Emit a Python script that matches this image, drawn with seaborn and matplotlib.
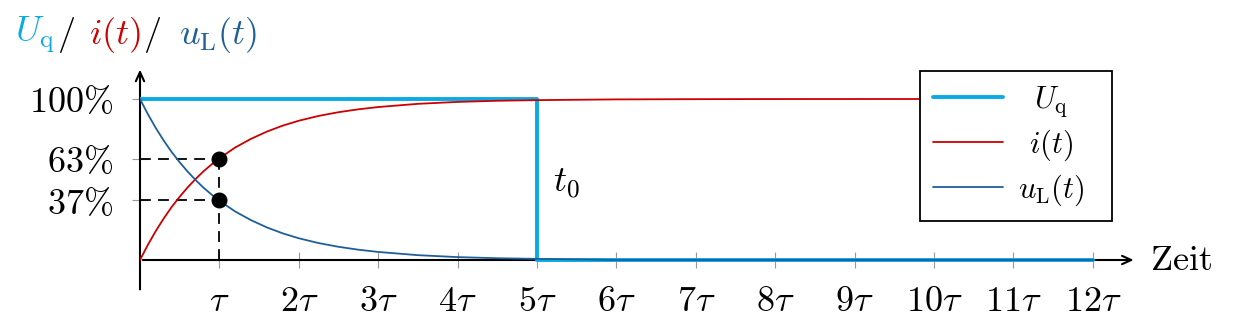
import matplotlib
matplotlib.use("Agg")
import matplotlib.pyplot as plt
import seaborn as sns
import pandas as pd

sns.set_theme(style="white")
plt.rcParams["mathtext.fontset"] = "cm"
plt.rcParams["font.family"] = ["DejaVu Serif"]
plt.rcParams["text.color"] = "black"
plt.rcParams["axes.labelcolor"] = "black"

# ---- data (in % of final value) ----
t_curve = [0, 0.1, 0.2, 0.3, 0.4, 0.5, 0.6, 0.7, 0.8, 0.9, 1.0, 1.2, 1.4, 1.6, 1.8,
           2.0, 2.25, 2.5, 2.75, 3.0, 3.5, 4.0, 4.5, 5.0, 6, 7, 8, 9, 10, 11, 12]
i_vals = [0, 9.5, 18.1, 25.9, 33.0, 39.3, 45.1, 50.3, 55.1, 59.3, 63.2, 69.9, 75.3, 79.8, 83.5,
          86.5, 89.5, 91.8, 93.6, 95.0, 97.0, 98.2, 98.9, 99.3, 99.75, 99.9, 99.97, 99.99, 100, 100, 100]
uL_vals = [100, 90.5, 81.9, 74.1, 67.0, 60.7, 54.9, 49.7, 44.9, 40.7, 36.8, 30.1, 24.7, 20.2, 16.5,
           13.5, 10.5, 8.2, 6.4, 5.0, 3.0, 1.8, 1.1, 0.7, 0, 0, 0, 0, 0, 0, 0]
t_step = [0, 5, 5, 12]
uq_vals = [100, 100, 0, 0]
mark_t = [1, 1]
mark_vals = [63, 37]
x_ticks = list(range(1, 13))
x_labels = [r"$\tau$"] + [rf"${k}\tau$" for k in range(2, 13)]
y_ticks = [37, 63, 100]
y_labels = [r"$37\%$", r"$63\%$", r"$100\%$"]

C_UQ = "#0aaae6"
C_I = "#cc0000"
C_UL = "#1f5f98"
FS = 26

fig = plt.figure(figsize=(12.43, 3.22), dpi=100)
ax = fig.add_axes([140 / 1243, 29.8 / 322, 996.5 / 1243, 225.4 / 322])
ax.set_xlim(0, 12.55)
ax.set_ylim(-20, 120)

df_uq = pd.DataFrame({"t": t_step, "v": uq_vals})
df_i = pd.DataFrame({"t": t_curve, "v": i_vals})
df_ul = pd.DataFrame({"t": t_curve, "v": uL_vals})

sns.lineplot(data=df_uq, x="t", y="v", ax=ax, color=C_UQ, lw=2.8, sort=False,
             estimator=None, label=r"$U_\mathrm{q}$", zorder=3)
sns.lineplot(data=df_i, x="t", y="v", ax=ax, color=C_I, lw=1.3, sort=False,
             estimator=None, label=r"$i(t)$", zorder=4)
sns.lineplot(data=df_ul, x="t", y="v", ax=ax, color=C_UL, lw=1.3, sort=False,
             estimator=None, label=r"$u_\mathrm{L}(t)$", zorder=5)

# dashed helper lines
for v in mark_vals:
    ax.plot([0, mark_t[0]], [v, v], color="black", lw=1.3, ls=(0, (6, 4)), zorder=2)
ax.plot([mark_t[0], mark_t[0]], [0, max(mark_vals)], color="black", lw=1.3,
        ls=(0, (6, 4)), zorder=2)
ax.scatter(mark_t, mark_vals, s=110, color="black", zorder=6)

ax.text(5.2, 47, r"$t_0$", fontsize=FS, va="center", ha="left", color="black")
ax.text(12.72, 0, r"$\mathrm{Zeit}$", fontsize=FS, va="center", ha="left", color="black")

# axes as arrows
for s in ax.spines.values():
    s.set_visible(False)
arrow = dict(arrowstyle="->,head_length=0.55,head_width=0.25", lw=1.5, color="black")
ax.annotate("", xy=(12.55, 0), xytext=(0, 0), arrowprops=arrow,
            annotation_clip=False, zorder=1)
ax.annotate("", xy=(0, 120), xytext=(0, -20), arrowprops=arrow,
            annotation_clip=False, zorder=1)

ax.spines["bottom"].set_position(("data", 0))
ax.set_xticks(x_ticks)
ax.set_xticklabels(x_labels, fontsize=FS)
ax.set_yticks(y_ticks)
ax.set_yticklabels(y_labels, fontsize=FS)
ax.tick_params(axis="both", direction="inout", length=11, width=0.8, color="#999999",
               labelcolor="black")
ax.tick_params(axis="x", pad=12, bottom=True)
ax.tick_params(axis="y", pad=14, left=True)
ax.set_xlabel("")
ax.set_ylabel("")

leg = ax.legend(loc="upper left", bbox_to_anchor=(920 / 1243, 1 - 71 / 322),
                bbox_transform=fig.transFigure,
                fontsize=22, frameon=True, fancybox=False, handlelength=2.3,
                borderpad=0.42, labelspacing=0.29, handletextpad=0.95, borderaxespad=0)
leg.get_frame().set_edgecolor("black")
leg.get_frame().set_linewidth(1.3)
leg.get_frame().set_alpha(1)
for t in leg.get_texts():
    t.set_color("black")

fig.canvas.draw()
renderer = fig.canvas.get_renderer()

# center the legend labels within their column (slightly left of column centre)
texts = leg.get_texts()
widths = [t.get_window_extent(renderer).width for t in texts]
wmax = max(widths)
for t, w in zip(texts, widths):
    t.set_x((wmax - w) / 2 - 14)

# title in colored pieces, placed one after another
ty = 1 - 35 / 322
pieces = [(r"$U_\mathrm{q}$", C_UQ, 0), (r"$/$", "black", 2),
          (r"$i(t)$", C_I, 14), (r"$/$", "black", 2), (r"$u_\mathrm{L}(t)$", C_UL, 18)]
xpix = 15
for txt, col, gap in pieces:
    xpix += gap
    t = fig.text(xpix / 1243, ty, txt, color=col, fontsize=FS, va="center")
    bb = t.get_window_extent(renderer)
    xpix += bb.width

fig.savefig("out.png", dpi=100)
